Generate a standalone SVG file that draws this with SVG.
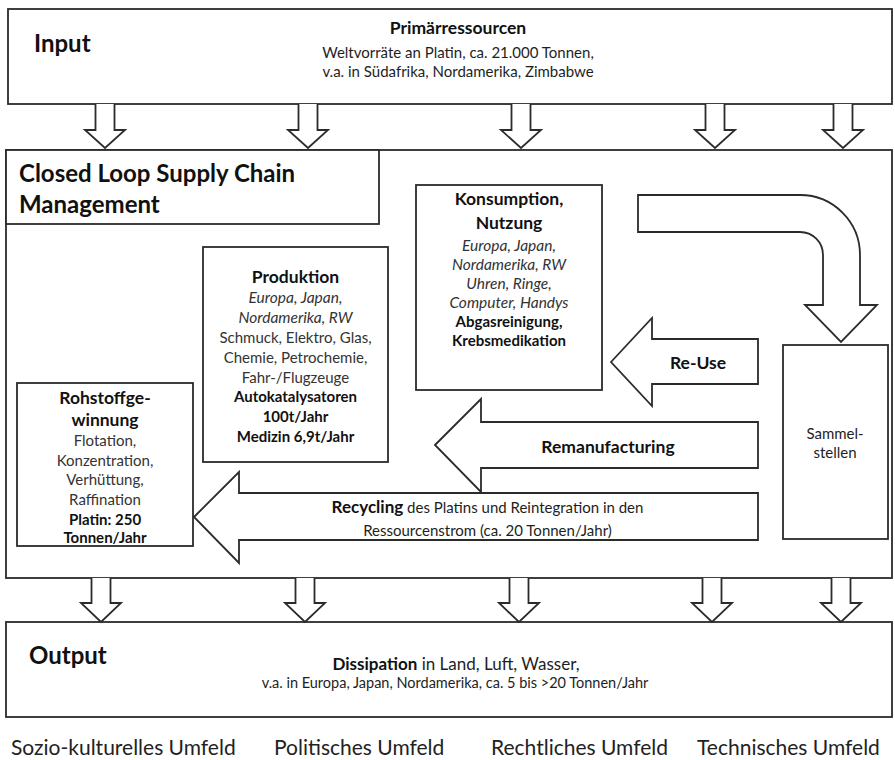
<svg xmlns="http://www.w3.org/2000/svg" width="895" height="760" viewBox="0 0 895 760">
<style>
.box{fill:#fff;stroke:#2b2b2b;stroke-width:1.8}
.arr{fill:#fff;stroke:#2b2b2b;stroke-width:1.8;stroke-linejoin:miter}
text{font-family:Lato,"Liberation Sans",sans-serif;fill:#1e1e1e}
.t{font-size:15px;text-anchor:middle;fill:#333}
.i{font-style:italic;font-size:15.5px}
.b{font-weight:bold;fill:#111}
.h{font-size:17.5px;font-weight:bold;text-anchor:middle;fill:#111}
.big{font-size:24px;font-weight:bold;fill:#111}
.env{font-size:21px;fill:#222}
</style>
<rect width="895" height="760" fill="#fff"/>
<g id="input">
<rect class="box" x="8" y="9" width="884" height="95"/>
<text class="big" x="34" y="52" font-size="26">Input</text>
<text class="b" x="458" y="34" font-size="17.5" text-anchor="middle">Primärressourcen</text>
<text x="458" y="58" font-size="15" text-anchor="middle" fill="#333">Weltvorräte an Platin, ca. 21.000 Tonnen,</text>
<text x="458" y="77" font-size="15" text-anchor="middle" fill="#333">v.a. in Südafrika, Nordamerika, Zimbabwe</text>
</g>
<g id="clscm">
<rect class="box" x="6" y="150" width="886" height="428"/>
<rect class="box" x="6" y="150" width="373" height="74"/>
<text class="big" x="19" y="182" font-size="22">Closed Loop Supply Chain</text>
<text class="big" x="19" y="213" font-size="22">Management</text>
</g>
<g id="konsumption">
<rect class="box" x="416" y="185" width="186" height="205"/>
<text class="h" x="509" y="205">Konsumption,</text>
<text class="h" x="509" y="229">Nutzung</text>
<text class="t i" x="509" y="251">Europa, Japan,</text>
<text class="t i" x="509" y="270">Nordamerika, RW</text>
<text class="t i" x="509" y="289">Uhren, Ringe,</text>
<text class="t i" x="509" y="308">Computer, Handys</text>
<text class="t b" x="509" y="327">Abgasreinigung,</text>
<text class="t b" x="509" y="346">Krebsmedikation</text>
</g>
<g id="produktion">
<rect class="box" x="203" y="247" width="185" height="215"/>
<text class="h" x="295.5" y="283">Produktion</text>
<text class="t i" x="295.5" y="303">Europa, Japan,</text>
<text class="t i" x="295.5" y="323">Nordamerika, RW</text>
<text class="t" x="295.5" y="343">Schmuck, Elektro, Glas,</text>
<text class="t" x="295.5" y="363">Chemie, Petrochemie,</text>
<text class="t" x="295.5" y="383">Fahr-/Flugzeuge</text>
<text class="t b" x="295.5" y="402">Autokatalysatoren</text>
<text class="t b" x="295.5" y="422">100t/Jahr</text>
<text class="t b" x="295.5" y="442">Medizin 6,9t/Jahr</text>
</g>
<g id="rohstoff">
<rect class="box" x="17" y="383" width="176" height="163"/>
<text class="h" x="105" y="404">Rohstoffge-</text>
<text class="h" x="105" y="426">winnung</text>
<text class="t" x="105" y="446">Flotation,</text>
<text class="t" x="105" y="466">Konzentration,</text>
<text class="t" x="105" y="485">Verhüttung,</text>
<text class="t" x="105" y="505">Raffination</text>
<text class="t b" x="105" y="525">Platin: 250</text>
<text class="t b" x="105" y="543">Tonnen/Jahr</text>
</g>
<g id="sammelstellen">
<rect class="box" x="783" y="345" width="105" height="194"/>
<text x="835" y="439" font-size="15" text-anchor="middle" fill="#333">Sammel-</text>
<text x="835" y="458" font-size="15" text-anchor="middle" fill="#333">stellen</text>
</g>
<g id="output">
<rect class="box" x="6" y="622" width="886" height="95"/>
<text class="big" x="29" y="664">Output</text>
<text x="456" y="670" font-size="17" text-anchor="middle" fill="#333"><tspan class="b">Dissipation</tspan> in Land, Luft, Wasser,</text>
<text x="455" y="688" font-size="14.5" text-anchor="middle" fill="#333">v.a. in Europa, Japan, Nordamerika, ca. 5 bis &gt;20 Tonnen/Jahr</text>
</g>
<g id="connectors">
<path class="arr" d="M638 195 L800 195 A60 60 0 0 1 860 255 L860 305 L877 305 L841 342 L805 305 L823 305 L823 255 A23 23 0 0 0 800 232 L638 232 Z"/>
<path class="arr" d="M611 362 L652 318 L652 339 L758 339 L758 384 L652 384 L652 406 Z"/>
<path class="arr" d="M435 445 L481 399 L481 422 L758 422 L758 468 L481 468 L481 492 Z"/>
<path class="arr" d="M194 517 L239 472 L239 493 L758 493 L758 540 L239 540 L239 563 Z"/>
<path class="arr" d="M95.5 104 V130 H85 L105 148 L125 130 H114.5 V104"/>
<path class="arr" d="M298.5 104 V130 H288 L308 148 L328 130 H317.5 V104"/>
<path class="arr" d="M511.5 104 V130 H501 L521 148 L541 130 H530.5 V104"/>
<path class="arr" d="M705.5 104 V130 H695 L715 148 L735 130 H724.5 V104"/>
<path class="arr" d="M833.5 104 V130 H823 L843 148 L863 130 H852.5 V104"/>
<path class="arr" d="M91.5 578 V603 H81 L101 622 L121 603 H110.5 V578"/>
<path class="arr" d="M295.5 578 V603 H285 L305 622 L325 603 H314.5 V578"/>
<path class="arr" d="M509.5 578 V603 H499 L519 622 L539 603 H528.5 V578"/>
<path class="arr" d="M702.5 578 V603 H692 L712 622 L732 603 H721.5 V578"/>
<path class="arr" d="M831.5 578 V603 H821 L841 622 L861 603 H850.5 V578"/>
<text x="487.5" y="513" font-size="15" text-anchor="middle" fill="#333"><tspan class="b" font-size="17">Recycling</tspan> des Platins und Reintegration in den</text>
<text x="487.5" y="536" font-size="15" text-anchor="middle" fill="#333">Ressourcenstrom (ca. 20 Tonnen/Jahr)</text>
<text class="h" x="608" y="453" font-size="18">Remanufacturing</text>
<text class="h" x="698" y="369" font-size="18">Re-Use</text>
</g>
<g id="umfeld">
<text class="env" x="11" y="755">Sozio-kulturelles Umfeld</text>
<text class="env" x="274" y="755">Politisches Umfeld</text>
<text class="env" x="491" y="755">Rechtliches Umfeld</text>
<text class="env" x="697" y="755">Technisches Umfeld</text>
</g>
</svg>
